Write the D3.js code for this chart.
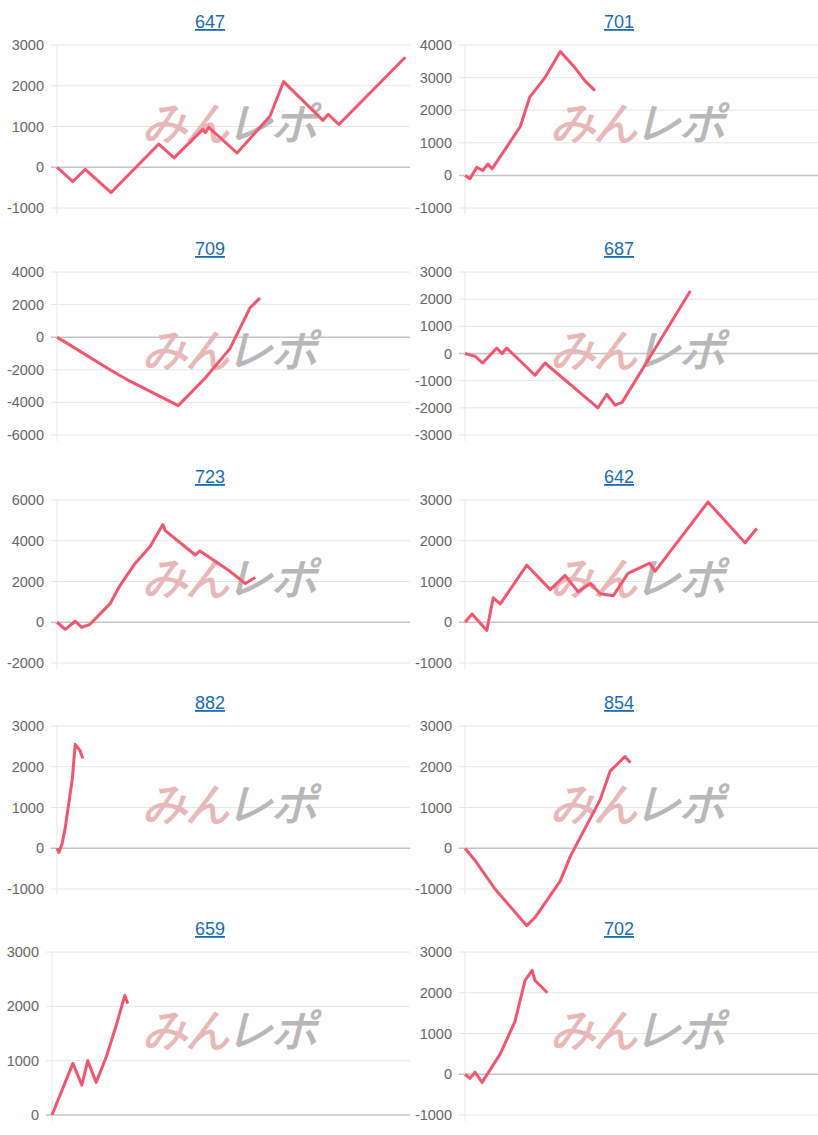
<!DOCTYPE html><html><head><meta charset="utf-8">
<script src="https://cdn.jsdelivr.net/npm/d3@7/dist/d3.min.js"></script>
<style>body{margin:0;background:#fff;font-family:Arial,"Liberation Sans",sans-serif}</style></head><body>
<svg id="c" width="818" height="1135"></svg>
<script>
const titles = ["647","701","709","687","723","642","882","854","659","702"];
const domains = [[-1000,3000],[-1000,4000],[-6000,4000],[-3000,3000],[-2000,6000],[-1000,3000],[-1000,3000],[-1000,3000],[0,3000],[-1000,3000]];
const tickSteps = [1000,1000,2000,1000,2000,1000,1000,1000,1000,1000];
const days = [
 [0,2.7,4.8,9.2,17.3,19.9,24.8,25.2,25.8,30.6,36.2,38.5,45.2,46.1,47.9,59.2],
 [0,0.85,2,3,3.9,4.6,9.4,11,13.6,16.2,18.7,20.4,22.1],
 [0,1.4,9,12.4,20.6,25.2,29.4,32.8,34.5],
 [0,0.85,1.7,3,5.4,6.3,7.1,11.9,13.6,22.6,24.1,25.5,26.7,33.2,38.3],
 [0,1.4,3.1,4.2,5.6,9,10.7,13.3,15.8,18,18.4,23.5,24.3,29.4,32,33.7],
 [0,1.2,3.7,4.8,6,10.5,14.5,17,19.2,21.3,23,25.2,27.7,31.4,32.3,41.3,47.6,49.6],
 [0,0.3,0.85,1.4,2.6,3.1,3.9,4.4],
 [0,1.7,5.1,10.5,11.9,16.2,17.9,23,24.7,27.2,28.1],
 [0,3.5,5,6,7.4,9.2,10.9,12.2,12.7],
 [0,0.85,1.7,2.9,6,8.5,10.2,11.4,11.9,14]
];
const values = [
 [0,-350,-50,-620,570,230,930,850,980,350,1250,2100,1150,1300,1050,2700],
 [0,-100,250,150,350,200,1500,2400,3000,3800,3300,2900,2600],
 [0,-300,-2000,-2700,-4200,-2500,-700,1800,2400],
 [0,-50,-100,-350,200,0,200,-800,-350,-2000,-1500,-1900,-1800,500,2300],
 [0,-350,50,-250,-100,900,1800,2900,3700,4800,4500,3300,3500,2500,1900,2200],
 [0,200,-200,600,450,1400,800,1150,750,950,700,650,1200,1450,1250,2950,1950,2300],
 [0,-100,100,500,1700,2550,2400,2200],
 [0,-300,-1000,-1900,-1700,-800,-200,1200,1900,2250,2100],
 [0,950,550,1000,600,1100,1700,2200,2050],
 [0,-100,50,-200,500,1300,2300,2550,2300,2000]
];
const maxDay = 60;
const rowTops = [0,227,455,681,907];
const svg = d3.select("#c");
titles.forEach((t,i)=>{
  const col=i%2,row=Math.floor(i/2);
  const px=col?408:0, top=rowTops[row];
  const hasNeg=domains[i][0]<0;
  const x0=px+(hasNeg?57:52), x1=col?818:410;
  const g=svg.append("g");
  const y=d3.scaleLinear().domain(domains[i]).range([top+208,top+45]);
  const x=d3.scaleLinear().domain([0,maxDay]).range([x0,x1]);
  const ticks=d3.range(domains[i][0],domains[i][1]+1,tickSteps[i]);
  g.selectAll("line.gr").data(ticks).join("line")
   .attr("x1",x0-6).attr("x2",x1).attr("y1",d=>y(d)).attr("y2",d=>y(d))
   .attr("stroke",d=>d===0?"#c4c4c4":"#e6e6e6").attr("stroke-width",d=>d===0?1.5:1);
  g.append("line").attr("x1",x0).attr("x2",x0).attr("y1",top+45).attr("y2",top+214).attr("stroke","#e6e6e6");
  g.selectAll("text.tk").data(ticks).join("text")
   .attr("x",x0-13).attr("y",d=>y(d)+5).attr("text-anchor","end")
   .attr("font-size",14.5).attr("fill","#666").text(d=>d);
  g.append("text").attr("x",px+(col?211:210)).attr("y",top+28).attr("text-anchor","middle")
   .attr("font-size",18).attr("fill","#1a6bb5").attr("text-decoration","underline").text(t);
  const wm=g.append("text").attr("x",px+230).attr("y",top+137).attr("text-anchor","middle")
   .attr("font-size",44).attr("font-weight","bold").attr("font-style","italic").attr("letter-spacing",-2);
  wm.append("tspan").attr("fill","#e8b8b8").text("みん");
  wm.append("tspan").attr("fill","#b8b8b8").text("レポ");
  const pts=days[i].map((d,k)=>[d,values[i][k]]);
  g.append("path").datum(pts).attr("fill","none").attr("stroke","#f2566e").attr("stroke-width",3)
   .attr("stroke-linejoin","round")
   .attr("d",d3.line().x(d=>x(d[0])).y(d=>y(d[1])));
});
</script></body></html>
